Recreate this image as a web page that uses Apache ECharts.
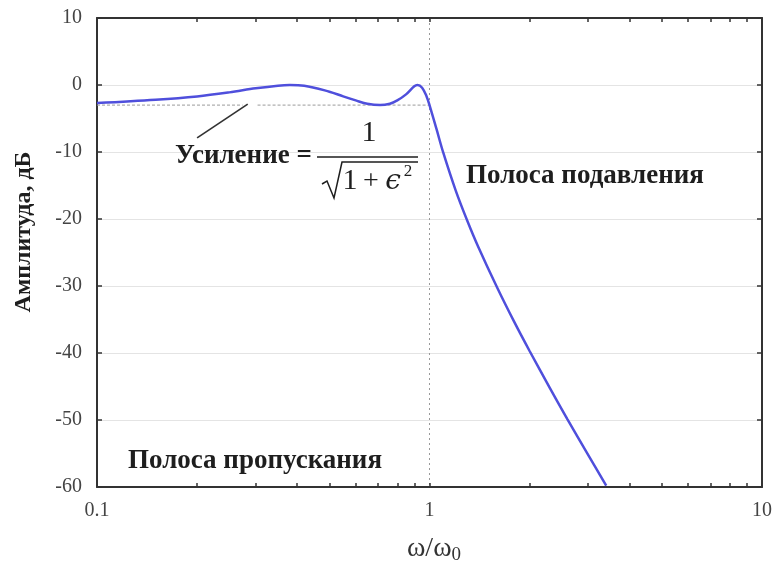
<!DOCTYPE html>
<html><head><meta charset="utf-8">
<script src="https://cdn.jsdelivr.net/npm/echarts@6/dist/echarts.min.js"></script>
<style>html,body{margin:0;padding:0;background:#fff}#c{width:780px;height:565px}</style>
</head><body><div id="c"></div>
<script>
// Frequency response
const freq   = [0.1, 0.15, 0.2, 0.25, 0.3, 0.35, 0.38, 0.42, 0.5, 0.55, 0.6, 0.65, 0.71, 0.76, 0.8, 0.85, 0.9, 0.92, 0.95, 0.98, 1.0, 1.05, 1.1, 1.2, 1.3, 1.4, 1.6, 1.8, 2.0, 2.3, 2.6, 3.0, 3.4];
const gainDb = [-2.7, -2.2, -1.7, -1.1, -0.5, -0.1, 0.0, -0.1, -1.0, -1.7, -2.3, -2.8, -3.0, -2.8, -2.3, -1.4, -0.2, 0.0, -0.4, -1.7, -3.0, -6.6, -10.1, -15.8, -20.3, -24.1, -30.3, -35.4, -39.7, -45.2, -49.9, -55.2, -59.8];
// Dotted -3 dB reference line (two pieces with a gap for the leader line)
const rippleDb = -3;
const rippleFreqs = [0.1, 0.274, null, 0.304, 1.0];
// Leader line from the label to the reference line
const leaderFreq = [0.2, 0.284];
const leaderDb = [-7.9, -2.85];
// Axis ticks
const xTickValues = [0.2, 0.3, 0.4, 0.5, 0.6, 0.7, 0.8, 0.9, 1, 2, 3, 4, 5, 6, 7, 8, 9];
const yMin = -60, yMax = 10, yStep = 10;

const serif = 'Liberation Serif';
const lineData = freq.map((f, i) => [f, gainDb[i]]);
const rippleData = rippleFreqs.map(f => f === null ? [null, null] : [f, rippleDb]);
const leaderData = leaderFreq.map((f, i) => [f, leaderDb[i]]);

const chart = echarts.init(document.getElementById('c'), null, {renderer: 'canvas'});
const frame = {show: true, onZero: false, lineStyle: {color: '#333', width: 2}};
const tickStyle = {color: '#333', width: 1.5};
const ink = '#1e1e1e';
chart.setOption({
  animation: false,
  backgroundColor: '#fff',
  grid: {left: 97, right: 18, top: 18, bottom: 78, containLabel: false},
  xAxis: [{
    type: 'log', logBase: 10, min: 0.1, max: 10, position: 'bottom',
    axisLine: frame,
    axisTick: {show: true, inside: true, length: 4, customValues: xTickValues, lineStyle: tickStyle},
    axisLabel: {fontFamily: serif, fontSize: 20, color: '#444', margin: 14},
    splitLine: {show: false}
  }, {
    type: 'log', logBase: 10, min: 0.1, max: 10, position: 'top',
    axisLine: frame,
    axisTick: {show: true, inside: true, length: 4, customValues: xTickValues, lineStyle: tickStyle},
    axisLabel: {show: false}, splitLine: {show: false}
  }, {
    type: 'log', logBase: 10, min: 0.1, max: 10, position: 'bottom',
    axisLine: {show: false}, axisTick: {show: false}, axisLabel: {show: false},
    splitLine: {show: true, lineStyle: {color: '#999', type: [2, 3], width: 1}}
  }],
  yAxis: [{
    type: 'value', min: yMin, max: yMax, interval: yStep, position: 'left',
    axisLine: frame,
    axisTick: {show: true, inside: true, length: 5, lineStyle: tickStyle},
    axisLabel: {fontFamily: serif, fontSize: 20, color: '#444', margin: 15},
    splitLine: {show: true, lineStyle: {color: '#e4e4e4', width: 1}}
  }, {
    type: 'value', min: yMin, max: yMax, interval: yStep, position: 'right',
    axisLine: frame,
    axisTick: {show: true, inside: true, length: 5, lineStyle: tickStyle},
    axisLabel: {show: false}, splitLine: {show: false}
  }],
  series: [{
    type: 'line', data: rippleData, showSymbol: false, connectNulls: false,
    lineStyle: {color: '#9a9a9a', width: 1, type: [3, 2]}, z: 2, silent: true
  }, {
    type: 'line', data: leaderData, showSymbol: false,
    lineStyle: {color: '#333', width: 1.6}, z: 2, silent: true
  }, {
    type: 'line', data: lineData, showSymbol: false, smooth: 0.35,
    lineStyle: {color: '#4f4fdc', width: 2.5}, z: 3
  }],
  graphic: [
    {type: 'text', x: 24, y: 232, rotation: Math.PI / 2, z: 10,
     style: {text: 'Амплитуда, дБ', font: 'bold 24px "Liberation Serif"', fill: ink, align: 'center', verticalAlign: 'middle'}},
    {type: 'text', x: 175, y: 156, z: 10,
     style: {text: 'Усиление =', font: 'bold 27px "Liberation Serif"', fill: ink, verticalAlign: 'middle'}},
    {type: 'text', x: 369, y: 133, z: 10,
     style: {text: '1', font: '30px "Liberation Serif"', fill: ink, align: 'center', verticalAlign: 'middle'}},
    {type: 'line', z: 10, shape: {x1: 317, y1: 157, x2: 418, y2: 157}, style: {stroke: ink, lineWidth: 1.6}},
    {type: 'polyline', z: 10, shape: {points: [[322, 184], [327, 181], [334, 198], [342, 162], [418, 162]]},
     style: {stroke: ink, lineWidth: 1.5, fill: null}},
    {type: 'text', x: 350, y: 181, z: 10,
     style: {text: '1', font: '30px "Liberation Serif"', fill: ink, align: 'center', verticalAlign: 'middle'}},
    {type: 'text', x: 371, y: 182, z: 10,
     style: {text: '+', font: '28px "Liberation Serif"', fill: ink, align: 'center', verticalAlign: 'middle'}},
    {type: 'text', x: 393, y: 182, z: 10,
     style: {text: 'ϵ', font: 'italic 28px "DejaVu Serif"', fill: ink, align: 'center', verticalAlign: 'middle'}},
    {type: 'text', x: 408, y: 172, z: 10,
     style: {text: '2', font: '17px "Liberation Serif"', fill: ink, align: 'center', verticalAlign: 'middle'}},
    {type: 'text', x: 466, y: 176, z: 10,
     style: {text: 'Полоса подавления', font: 'bold 27px "Liberation Serif"', fill: ink, verticalAlign: 'middle'}},
    {type: 'text', x: 128, y: 461, z: 10,
     style: {text: 'Полоса пропускания', font: 'bold 27px "Liberation Serif"', fill: ink, verticalAlign: 'middle'}},
    {type: 'text', x: 434, y: 549, z: 10,
     style: {text: '{a|ω/ω}{s|0}', align: 'center', verticalAlign: 'middle', fill: '#333',
       rich: {a: {font: '28px "Liberation Serif"', fill: '#333'},
              s: {font: '19px "Liberation Serif"', fill: '#333', padding: [12, 0, 0, 0]}}}}
  ]
});
</script></body></html>
